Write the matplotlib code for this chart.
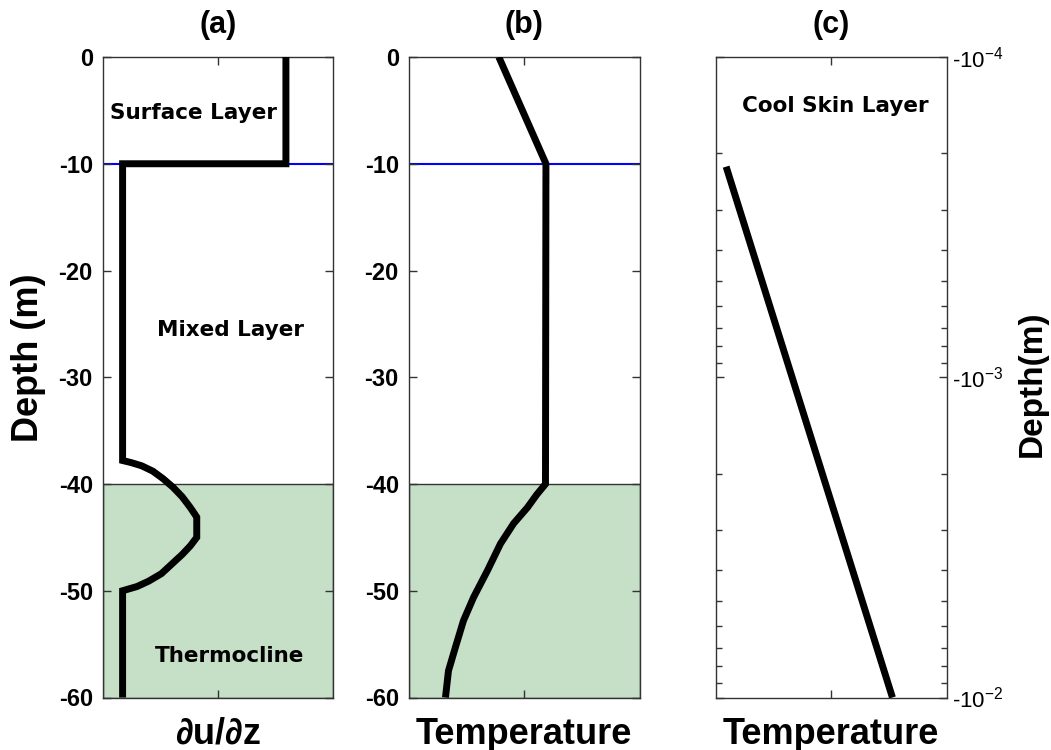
import math
import matplotlib
matplotlib.use("Agg")
import matplotlib.pyplot as plt
from matplotlib.ticker import FixedLocator, FuncFormatter, LogLocator, NullFormatter

# ---- data -------------------------------------------------------------
# (a) vertical shear profile
shear_depth = [0, -10, -10, -37.8, -38.0, -38.3, -38.8, -39.5, -40.3, -41.2, -42.2, -43.1,
               -45.0, -45.8, -46.6, -47.5, -48.4, -49.1, -49.6, -50.0, -60]
shear_value = [0.794, 0.794, 0.087, 0.087, 0.125, 0.170, 0.218, 0.262, 0.305, 0.345, 0.380, 0.408,
               0.408, 0.380, 0.345, 0.300, 0.255, 0.200, 0.150, 0.087, 0.087]

# (b) temperature profile
temp_depth = [0, -10, -40, -41.0, -42.2, -43.7, -45.6, -48.1, -50.6, -52.8, -55.3, -57.5, -60]
temp_value = [0.391, 0.595, 0.593, 0.555, 0.515, 0.455, 0.398, 0.342, 0.282, 0.238, 0.203, 0.173, 0.160]

# (c) cool skin temperature (depth magnitude in m, log axis)
skin_depth = [2.2e-4, 1e-2]
skin_value = [0.046, 0.766]

depth_ticks = [0, -10, -20, -30, -40, -50, -60]
skin_ticks = [1e-4, 1e-3, 1e-2]
surface_base = -10
thermocline_top = -40
panel_titles = ["(a)", "(b)", "(c)"]
x_labels = ["\u2202u/\u2202z", "Temperature", "Temperature"]

# ---- style ------------------------------------------------------------
plt.rcParams["mathtext.fontset"] = "custom"
plt.rcParams["mathtext.rm"] = "Liberation Sans"
plt.rcParams["axes.unicode_minus"] = False

GREEN = "#c6dfc7"
SPINE = "#333333"
TICK_FONT = dict(family=["Liberation Sans Narrow", "Liberation Sans"], weight="bold", size=17)
LABEL_FONT = dict(family="Liberation Sans", weight="bold", size=26)
TITLE_FONT = dict(family="Liberation Sans", weight="bold", size=22)
NOTE_FONT = dict(family="DejaVu Sans", weight="bold", size=15.5)

fig = plt.figure(figsize=(10.51, 7.5), dpi=100)
W, H = 1051, 750
def rect(left, top, width, height):
    return [left / W, 1 - (top + height) / H, width / W, height / H]

axa = fig.add_axes(rect(102.5, 57, 231, 640.5))
axb = fig.add_axes(rect(408.5, 57, 231, 640.5))
axc = fig.add_axes(rect(715.5, 57, 231, 640.5))

def style_axes(ax):
    for s in ax.spines.values():
        s.set_color(SPINE)
        s.set_linewidth(1.0)
    ax.tick_params(which="both", direction="in", top=True, right=True,
                   color=SPINE, width=1.0)
    ax.tick_params(which="major", length=5.5)
    ax.tick_params(which="minor", length=4)
    ax.set_xlim(0, 1)
    ax.xaxis.set_major_locator(FixedLocator([0.5]))
    ax.set_xticklabels([])

for ax, depth, val, title, xl in [(axa, shear_depth, shear_value, panel_titles[0], x_labels[0]),
                                   (axb, temp_depth, temp_value, panel_titles[1], x_labels[1])]:
    style_axes(ax)
    ax.set_ylim(-60, 0)
    ax.axhspan(-60, thermocline_top, facecolor=GREEN, edgecolor=SPINE, lw=1.0, zorder=0)
    ax.axhline(surface_base, color="#0000ff", lw=1.5, zorder=1)
    ax.plot(val, depth, color="black", lw=5, solid_joinstyle="miter",
            solid_capstyle="butt", zorder=3)
    ax.set_yticks(depth_ticks)
    ax.set_yticklabels([str(t) for t in depth_ticks], fontdict=TICK_FONT)
    ax.tick_params(axis="y", pad=7)
    ax.set_title(title, fontdict=TITLE_FONT, pad=17)
    ax.set_xlabel(xl, fontdict=LABEL_FONT)
    ax.xaxis.set_label_coords(0.5, -0.03)

axa.set_ylabel("Depth (m)", fontdict=LABEL_FONT)
axa.yaxis.set_label_coords(-0.245, 0.53)

axa.text(0.394, -5.2, "Surface Layer", ha="center", va="center", **NOTE_FONT)
axa.text(0.552, -25.6, "Mixed Layer", ha="center", va="center", **NOTE_FONT)
axa.text(0.548, -56.1, "Thermocline", ha="center", va="center", **NOTE_FONT)

# (c) log-depth panel
style_axes(axc)
axc.set_yscale("log")
axc.set_ylim(1e-2, 1e-4)
axc.plot(skin_value, skin_depth, color="black", lw=5, solid_capstyle="butt", zorder=3)
axc.yaxis.set_major_locator(FixedLocator(skin_ticks))
axc.yaxis.set_minor_locator(LogLocator(base=10, subs=range(2, 10)))
axc.yaxis.set_minor_formatter(NullFormatter())
axc.yaxis.set_major_formatter(FuncFormatter(
    lambda v, p: "-10${}^{\\mathregular{-%d}}$" % abs(round(math.log10(v)))))
axc.tick_params(axis="y", labelleft=False, labelright=True, pad=4, labelsize=16)
for lab in axc.get_yticklabels():
    lab.set_family("Liberation Sans")
axc.yaxis.set_label_position("right")
axc.set_ylabel("Depth(m)", fontdict=dict(LABEL_FONT, size=24), rotation=90)
axc.yaxis.set_label_coords(1.305, 0.49)
axc.set_title(panel_titles[2], fontdict=TITLE_FONT, pad=17)
axc.set_xlabel(x_labels[2], fontdict=LABEL_FONT)
axc.xaxis.set_label_coords(0.5, -0.03)
axc.text(0.517, 1.42e-4, "Cool Skin Layer", ha="center", va="center", **NOTE_FONT)

fig.savefig("out.png", dpi=100)
